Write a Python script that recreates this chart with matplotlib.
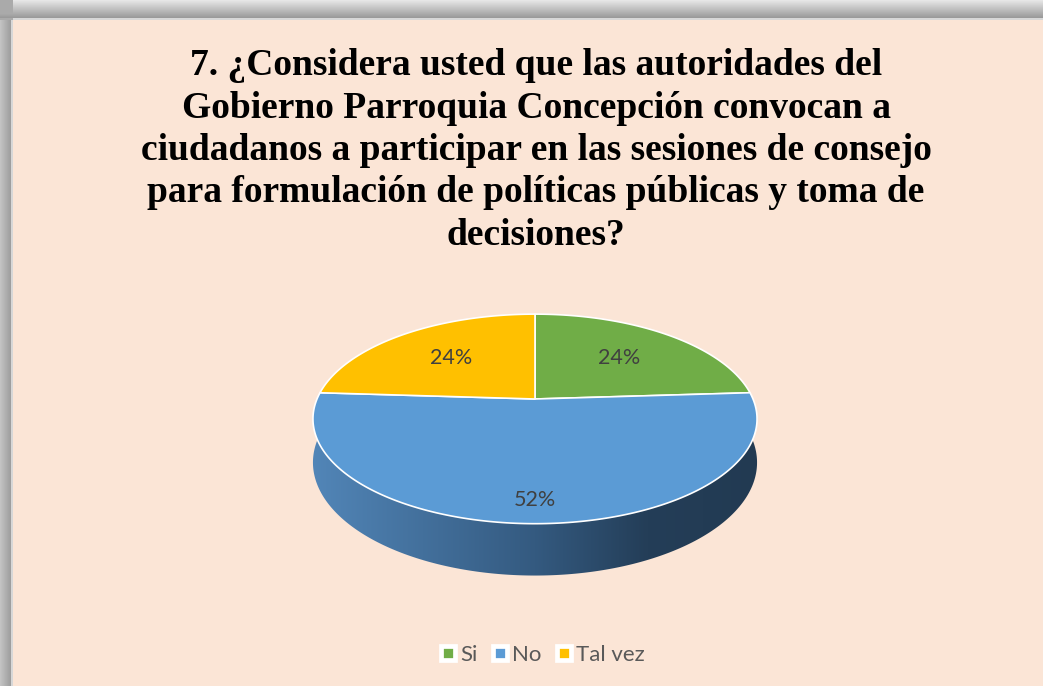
import numpy as np
import matplotlib
matplotlib.use("Agg")
import matplotlib.pyplot as plt
from matplotlib.patches import Polygon
from matplotlib.lines import Line2D

# data
categories = ["Si", "No", "Tal vez"]
shares = [24, 52, 24]
pct_labels = ["24%", "52%", "24%"]
colors = ["#70AD47", "#5B9BD5", "#FFC000"]
title_lines = [
    "7. ¿Considera usted que las autoridades del",
    "Gobierno Parroquia Concepción convocan a",
    "ciudadanos a participar en las sesiones de consejo",
    "para formulación de políticas públicas y toma de",
    "decisiones?",
]

# layout (pixels)
W, H = 1043, 686
CX, CY = 535, 399      # projected pie centre
A, B = 218, 101        # horizontal / vertical radius
K = 0.19               # perspective
DEPTH = 42             # thickness of the pie
label_r = [0.61, 0.84, 0.61]
bg_color = np.array([251, 229, 214]) / 255


def proj(theta, r=1.0, drop=0.0):
    u = r * np.cos(theta)
    v = r * np.sin(theta)
    w = 1 + K * v
    return CX + A * u / w, CY - B * v / w + drop / w


# background with the grey shadow frame
img = np.ones((H, W, 3)) * bg_color
top = 20
left = 13
for i in range(top):
    g = (230 - 80 * i / (top - 2)) / 255 if i < top - 2 else 215 / 255
    img[i, :, :] = g
for j in range(left):
    g = (195 - 40 * j / (left - 2)) / 255 if j < left - 2 else 215 / 255
    img[top:, j, :] = g
img[:top, :left, :] = np.minimum(img[:top, :left, :], 170 / 255)

fig = plt.figure(figsize=(W / 100, H / 100), dpi=100)
ax = fig.add_axes([0, 0, 1, 1])
ax.imshow(img, extent=(0, W, H, 0), aspect="auto", interpolation="nearest")

# side wall (front half), one polygon filled with a left-to-right shade
th = np.linspace(np.pi, 2 * np.pi, 300)
tx, ty = proj(th)
bx, by = proj(th, drop=DEPTH)
side = Polygon(list(zip(tx, ty)) + list(zip(bx[::-1], by[::-1])), closed=True,
               facecolor="none", edgecolor="none")
ax.add_patch(side)
side_stops = np.array([-1.0, 0.0, 0.5, 1.0])
side_cols = np.array([[82, 134, 184], [52, 90, 128], [36, 62, 88], [34, 58, 82]]) / 255
xs = np.linspace(-1.05, 1.05, 400)
shade = np.array([[np.interp(x, side_stops, side_cols[:, k]) for k in range(3)] for x in xs])
grad = ax.imshow(shade[np.newaxis, :, :], aspect="auto", interpolation="bilinear",
                 extent=(CX - 1.05 * A * 1.03, CX + 1.05 * A * 1.03, by.max() + 2, CY - 5))
grad.set_clip_path(side)
ax.set_xlim(0, W)
ax.set_ylim(H, 0)
ax.axis("off")

# top face wedges, clockwise from 12 o'clock
start = 90.0
mids = []
for share, col in zip(shares, colors):
    span = 360.0 * share / sum(shares)
    arc = np.radians(np.linspace(start, start - span, 200))
    px, py = proj(arc)
    pts = [(CX, CY)] + list(zip(px, py))
    ax.add_patch(Polygon(pts, closed=True, facecolor=col, edgecolor="white", lw=1.2,
                         joinstyle="round"))
    mids.append(np.radians(start - span / 2))
    start -= span

for mid, r, lab in zip(mids, label_r, pct_labels):
    x, y = proj(mid, r=r)
    ax.text(x, y, lab, ha="center", va="center", fontsize=15.5, color="#404040",
            family="Lato")

# title
for i, line in enumerate(title_lines):
    ax.text(536, 75 + i * 42.5, line, ha="center", va="baseline", fontsize=27,
            fontweight="bold", family="Liberation Serif", color="black")

# legend
handles = [Line2D([], [], ls="none", marker="s", markersize=9.5, markerfacecolor=c,
                  markeredgecolor="white", markeredgewidth=3.4) for c in colors]
leg = ax.legend(handles, categories, loc="center", bbox_to_anchor=(542 / W, 1 - 655 / H),
                ncol=3, frameon=False, handletextpad=0.15, columnspacing=0.6,
                prop={"family": "Lato", "size": 16}, labelcolor="#595959",
                handlelength=0.8)

fig.savefig("out.png", dpi=100)
